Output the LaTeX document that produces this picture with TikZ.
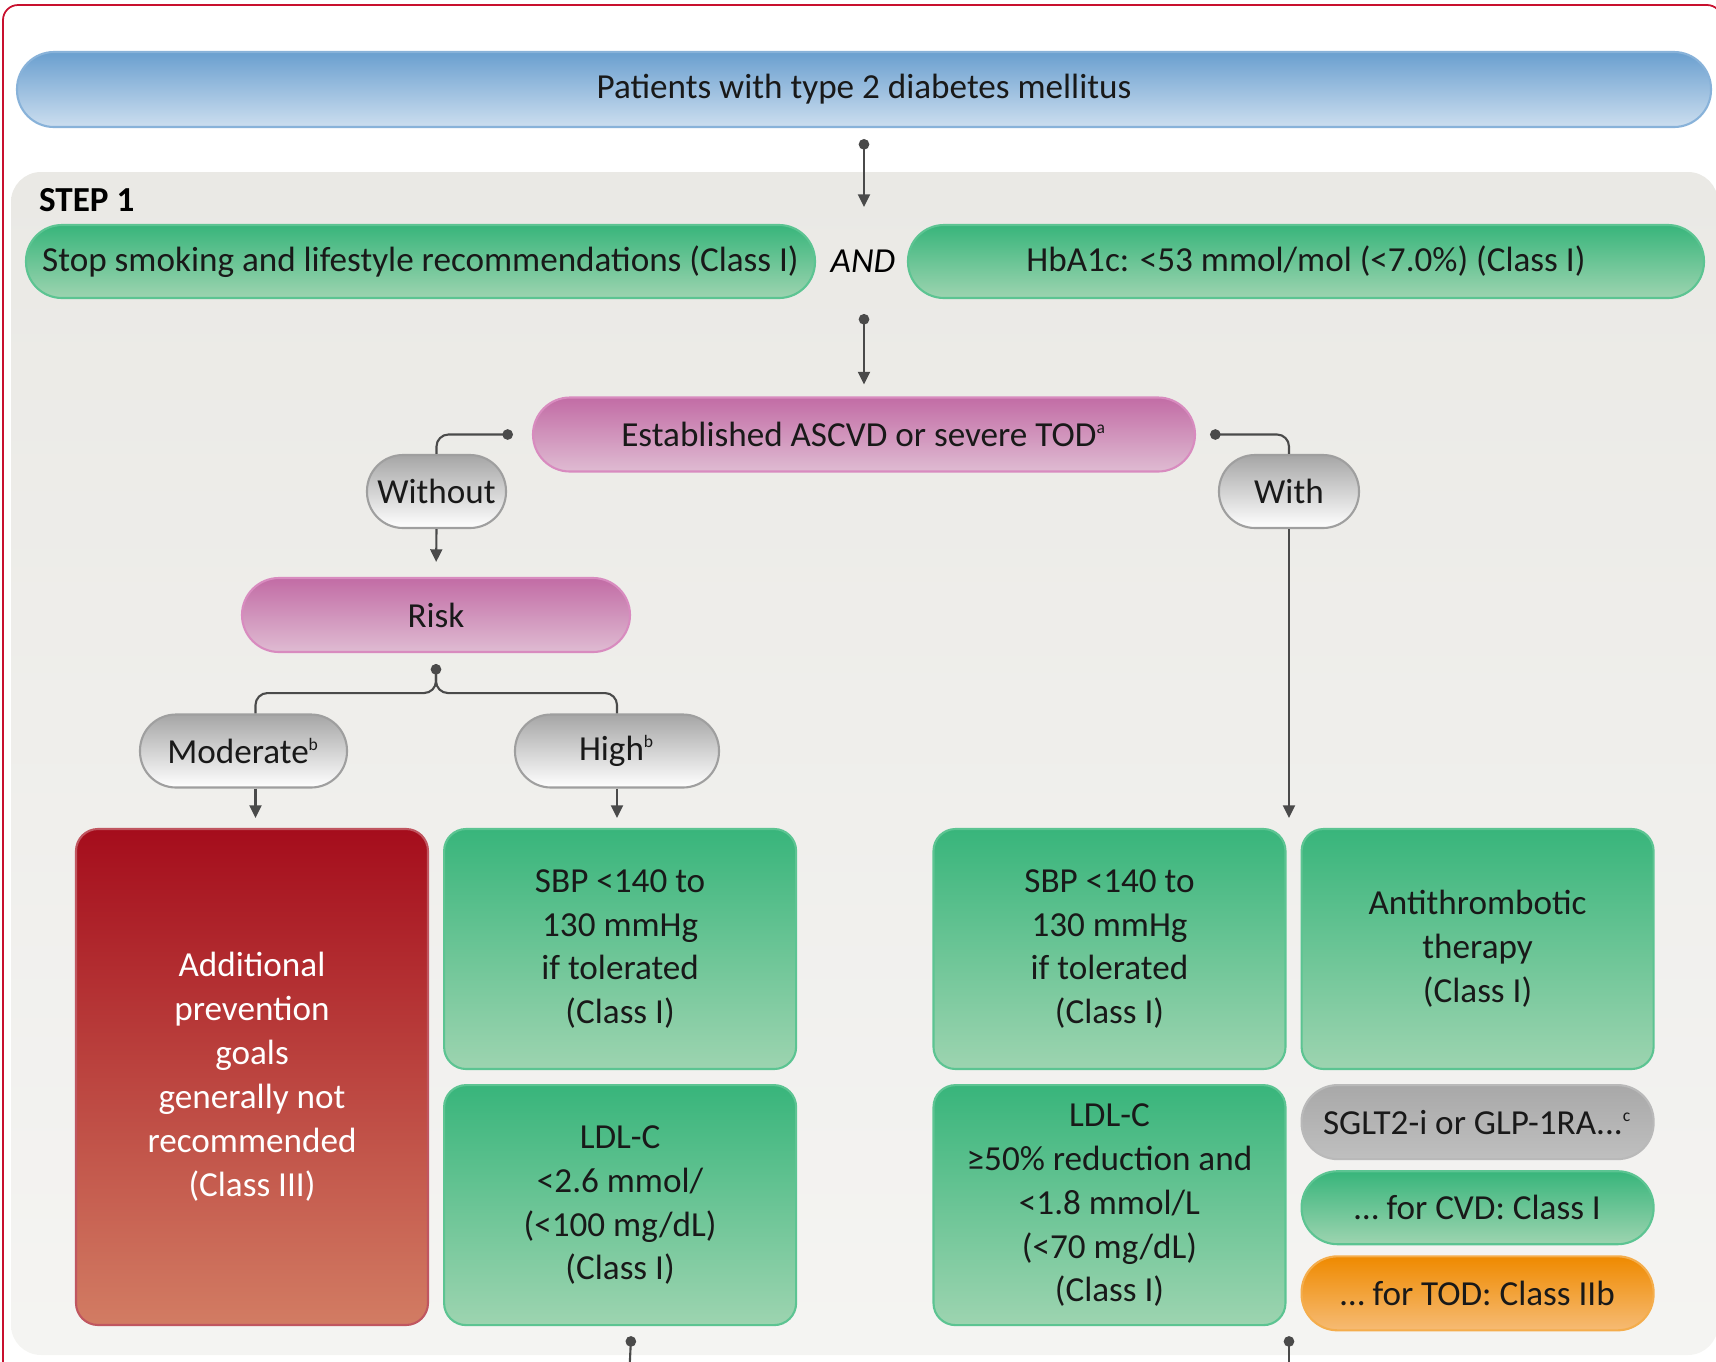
\documentclass[tikz,border=0pt]{standalone}
\usepackage{fontspec}
\setmainfont{Carlito}
\usetikzlibrary{arrows.meta,positioning}

\definecolor{framered}{HTML}{C8102E}
\definecolor{panelgrey}{HTML}{EAE9E5}
\definecolor{linegrey}{HTML}{4A4A4A}
\definecolor{bluetop}{HTML}{6A9FCF}
\definecolor{bluebot}{HTML}{CCDEEF}
\definecolor{greentop}{HTML}{38B57B}
\definecolor{greenbot}{HTML}{9DD4B0}
\definecolor{greenline}{HTML}{5CC492}
\definecolor{pinktop}{HTML}{C26CA5}
\definecolor{pinkbot}{HTML}{DFBBD2}
\definecolor{pinkline}{HTML}{D88BBF}
\definecolor{redtop}{HTML}{A50D1C}
\definecolor{redbot}{HTML}{D27C63}
\definecolor{orangetop}{HTML}{EF8A00}
\definecolor{orangebot}{HTML}{F6BB74}
\newcommand{\supmark}[1]{\textsuperscript{\tiny #1}}

\begin{document}
\begin{tikzpicture}[>={Triangle[length=3.6pt,width=3.4pt]}, semithick, font=\fontsize{10}{12.5}\selectfont,
	box/.style={inner sep=0pt, align=center, text=black!90},
	bar/.style={box, draw=bluetop!80, top color=bluetop, bottom color=bluebot, rounded corners=0.37cm, minimum height=0.75cm},
	greenpill/.style={box, draw=greenline, top color=greentop, bottom color=greenbot, rounded corners=0.36cm, minimum height=0.73cm},
	pinkpill/.style={box, draw=pinkline, top color=pinktop, bottom color=pinkbot, rounded corners=0.37cm, minimum height=0.74cm},
	bubble/.style={box, draw=gray!75, top color=gray!70, bottom color=white, rounded corners=0.36cm, minimum height=0.73cm},
	greenbox/.style={box, draw=greenline, top color=greentop, bottom color=greenbot, rounded corners=0.22cm, minimum width=3.52cm, minimum height=2.4cm},
	redbox/.style={box, text=white, draw=redtop!70, top color=redtop, bottom color=redbot, rounded corners=0.22cm, minimum width=3.52cm, minimum height=4.96cm},
	greypill/.style={box, draw=gray!55, top color=gray!68, bottom color=gray!50, rounded corners=0.36cm, minimum width=3.52cm, minimum height=0.74cm},
	orangepill/.style={box, draw=orangetop!70, top color=orangetop, bottom color=orangebot, rounded corners=0.36cm, minimum width=3.52cm, minimum height=0.74cm},
	flow/.style={->, draw=linegrey},
	dotflow/.style={{Circle[length=3pt]}->, draw=linegrey},
	branch/.style={{Circle[length=3pt]}-, draw=linegrey, rounded corners=0.12cm},
	plain/.style={draw=linegrey, rounded corners=0.12cm}]

	\useasboundingbox (0,0) rectangle (17.16,-13.62);
	\clip (0,0) rectangle (17.16,-13.62);
	\draw[framered, line width=0.5pt, rounded corners=0.15cm] (0.03,-0.05) rectangle (17.22,-14.0);
	\shade[top color=panelgrey, bottom color=panelgrey!50!white, rounded corners=0.3cm] (0.11,-1.72) rectangle (17.18,-13.55);

	\node[bar, minimum width=16.94cm] (top) at (8.64,-0.895) {Patients with type 2 diabetes mellitus};
	\node[font=\fontsize{10}{12.5}\selectfont\bfseries, anchor=west, inner sep=0pt] (step) at (0.38,-2.0) {STEP 1};
	\node[greenpill, minimum width=7.89cm] (stop) at (4.205,-2.615) {Stop smoking and lifestyle recommendations (Class I)};
	\node (and) at (8.63,-2.615) {\itshape AND};
	\node[greenpill, minimum width=7.96cm] (hba) at (13.06,-2.615) {HbA1c: <53 mmol/mol (<7.0\%) (Class I)};
	\node[pinkpill, minimum width=6.62cm] (ascvd) at (8.64,-4.345) {Established ASCVD or severe TOD\supmark{a}};
	\node[bubble, minimum width=1.39cm] (without) at (4.365,-4.915) {Without};
	\node[bubble, minimum width=1.40cm] (with) at (12.89,-4.915) {With};
	\node[pinkpill, minimum width=3.88cm] (risk) at (4.36,-6.15) {Risk};
	\node[bubble, minimum width=2.07cm] (moderate) at (2.435,-7.51) {Moderate\supmark{b}};
	\node[bubble, minimum width=2.04cm] (high) at (6.17,-7.51) {High\supmark{b}};

	\node[redbox] (addl) at (2.52,-10.77) {Additional\\prevention\\goals\\generally not\\recommended\\(Class III)};
	\node[greenbox] (sbpL) [right=0.14cm of addl.north east, anchor=north west] {SBP <140 to\\130 mmHg\\if tolerated\\(Class I)};
	\node[greenbox] (ldlL) [below=0.14cm of sbpL] {LDL-C\\<2.6 mmol/\\(<100 mg/dL)\\(Class I)};
	\node[greenbox] (sbpR) at (11.095,-9.49) {SBP <140 to\\130 mmHg\\if tolerated\\(Class I)};
	\node[greenbox] (anti) [right=0.14cm of sbpR] {Antithrombotic\\therapy\\(Class I)};
	\node[greenbox] (ldlR) [below=0.14cm of sbpR] {LDL-C\\≥50\% reduction and\\<1.8 mmol/L\\(<70 mg/dL)\\(Class I)};
	\node[greypill] (sglt) [below=0.14cm of anti] {SGLT2-i or GLP-1RA...\supmark{c}};
	\node[greenpill, minimum width=3.52cm] (cvd) [below=0.10cm of sglt] {… for CVD: Class I};
	\node[orangepill] (tod) [below=0.10cm of cvd] {… for TOD: Class IIb};

	\coordinate (tip1) at (8.64,-2.07);
	\coordinate (dot2) at (8.64,-3.14);
	\coordinate (out1) at (6.29,-13.8);
	\coordinate (out2) at (12.89,-13.8);

	\draw[dotflow, shorten <=0.11cm] (top.south) -- (tip1);
	\draw[dotflow, shorten >=0.12cm] (dot2) -- (ascvd.north);
	\draw[branch] ([xshift=-0.19cm]ascvd.west) -| (without.north);
	\draw[branch] ([xshift=0.14cm]ascvd.east) -| (with.north);
	\draw[flow, shorten >=0.15cm] (without.south) -- (risk.north);
	\draw[branch] ([yshift=-0.11cm]risk.south) -- ++(0,-0.29) -| ([xshift=0.12cm]moderate.north);
	\draw[plain] ([yshift=-0.11cm]risk.south) -- ++(0,-0.29) -| (high.north);
	\draw[flow, shorten >=0.1cm] ([xshift=0.12cm]moderate.south) -- ([xshift=0.12cm]moderate.south |- addl.north);
	\draw[flow, shorten >=0.1cm] (high.south) -- (high.south |- sbpL.north);
	\draw[flow, shorten >=0.1cm] (with.south) -- (with.south |- sbpR.north);
	\draw[branch] ([shift={(0.11cm,-0.10cm)}]ldlL.south) -- (out1);
	\draw[branch] ([yshift=-0.10cm]with.south |- ldlR.south) -- (out2);
\end{tikzpicture}
\end{document}
